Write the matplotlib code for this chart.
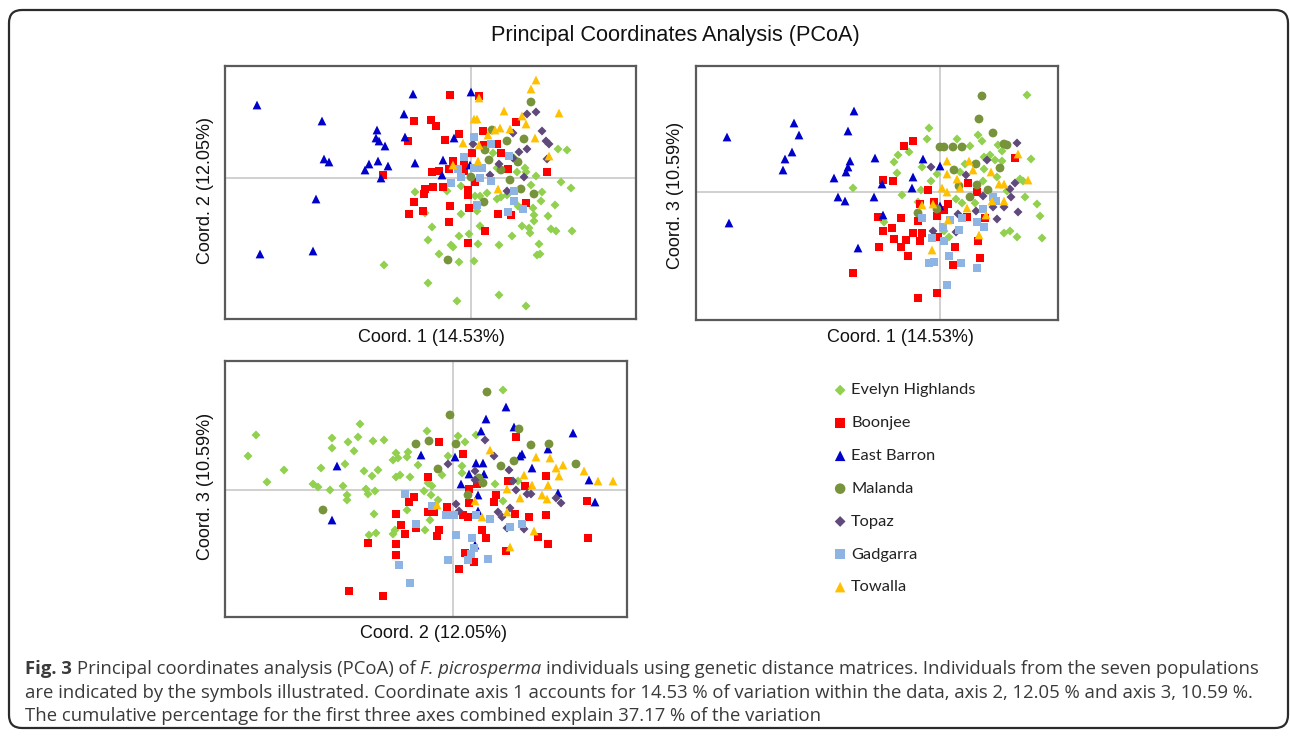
import numpy as np
import matplotlib.pyplot as plt
from matplotlib.patches import FancyBboxPatch

# PCoA scores (arbitrary units, origin at the crosshair)
populations = ['Evelyn Highlands', 'Boonjee', 'East Barron', 'Malanda',
               'Topaz', 'Gadgarra', 'Towalla']
colors = ['#92d050', '#ff0000', '#0000cc', '#77933c', '#604a7b', '#8db4e2', '#ffc000']
markers = ['D', 's', '^', 'o', 'D', 's', '^']
sizes = [21, 36, 40, 40, 21, 36, 40]

# coord 1 vs coord 2
c12_evelyn = [(-0.56,-0.14),(-0.46,-0.35),(-0.39,-0.49),(-0.43,-0.62),(-0.87,-0.87),(-0.43,-1.05),
              (-0.14,-1.23),(0.28,-1.17),(0.55,-1.28),(0.87,0.29),(0.96,0.28),(0.90,-0.04),(1.00,-0.10),
              (0.46,0.06),(0.55,0.06),(0.65,0.02),(0.60,-0.07),(0.71,-0.14),(0.70,-0.23),(0.84,-0.27),
              (0.62,-0.30),(0.77,-0.38),(0.63,-0.37),(0.63,-0.43),(0.51,-0.48),(0.58,-0.50),(0.59,-0.55),
              (0.80,-0.51),(0.85,-0.53),(1.01,-0.53),(0.68,-0.66),(0.66,-0.77),(0.69,-0.76),(0.41,-0.58),
              (0.28,-0.67),(0.07,-0.66),(0.03,-0.83),(-0.12,-0.84),(-0.32,-0.76),(-0.20,-0.67),(-0.18,-0.69),
              (-0.12,-0.58),(-0.02,-0.56),(0.09,-0.48),(-0.10,-0.36),(0.06,-0.33),(0.16,-0.15),(0.04,-0.18),
              (0.09,-0.18),(0.26,-0.21),(0.30,-0.19),(0.36,-0.17),(0.47,-0.28),(0.50,-0.30),(-0.10,-0.08),
              (-0.24,-0.13),(0.22,0.25),(0.43,0.20),(0.54,0.10),(0.26,0.10)]
c12_boonjee = [(-0.57,0.57),(-0.40,0.58),(-0.63,0.37),(-0.88,0.03),(-0.39,0.06),(-0.46,-0.11),(-0.38,-0.09),
               (-0.47,-0.16),(-0.57,-0.24),(-0.48,-0.33),(-0.62,-0.36),(-0.21,0.83),(0.08,0.82),(-0.35,0.52),
               (-0.26,0.38),(-0.12,0.44),(0.12,0.47),(0.45,0.56),(0.13,0.33),(0.26,0.34),(0.30,0.25),
               (0.01,0.25),(-0.18,0.17),(-0.22,0.09),(-0.32,0.07),(-0.07,0.13),(-0.07,0.07),(0.04,-0.04),
               (0.37,0.09),(0.76,0.06),(-0.28,-0.09),(-0.03,-0.12),(-0.03,-0.17),(-0.21,-0.28),(-0.02,-0.30),
               (0.27,-0.36),(0.40,-0.37),(0.55,-0.25),(-0.22,-0.44),(0.14,-0.53),(-0.03,-0.65)]
c12_eastbarron = [(-2.14,0.73),(-0.58,0.84),(-1.49,0.57),(-0.67,0.64),(-0.94,0.48),(-0.95,0.40),(-0.92,0.37),
                  (-0.86,0.32),(-0.66,0.41),(-1.47,0.19),(-1.42,0.16),(-1.02,0.14),(-0.93,0.17),(-1.06,0.08),
                  (-0.83,0.12),(-0.56,0.15),(-0.90,0.00),(-1.55,-0.21),(-2.11,-0.76),(-1.58,-0.73),(0.00,0.86),
                  (-0.17,0.40),(-0.28,0.18),(-0.29,0.03),(-0.01,0.13)]
c12_malanda = [(0.60,0.76),(0.21,0.48),(0.36,0.37),(0.53,0.39),(0.14,0.28),(0.18,0.18),(0.47,0.16),
               (0.30,0.08),(0.00,0.01),(0.39,-0.02),(0.50,-0.11),(0.63,-0.16),(0.13,-0.24),(-0.23,-0.82)]
c12_topaz = [(0.65,0.66),(0.56,0.64),(0.71,0.47),(0.42,0.45),(0.75,0.37),(0.78,0.34),(0.56,0.29),(0.48,0.26),
             (0.42,0.20),(0.76,0.19),(0.02,0.34),(0.19,0.03),(0.53,0.01),(0.36,-0.13),(0.28,0.14)]
c12_gadgarra = [(0.03,0.41),(0.20,0.34),(-0.07,0.21),(-0.13,0.09),(0.03,0.10),(0.11,0.10),(0.38,0.22),
                (-0.10,0.01),(0.09,0.00),(0.20,-0.03),(-0.20,-0.05),(0.43,-0.13),(0.43,-0.23),(0.52,-0.31),
                (0.37,-0.34),(0.06,-0.27)]
c12_towalla = [(0.65,0.98),(0.60,0.89),(0.08,0.80),(0.33,0.67),(0.88,0.65),(0.51,0.62),(0.55,0.54),(0.03,0.59),
               (0.06,0.59),(0.24,0.48),(0.29,0.50),(0.39,0.49),(0.17,0.43),(0.64,0.40),(-0.08,0.35),(0.08,0.33),
               (0.07,0.17),(-0.18,0.13),(0.78,0.22),(0.27,-0.11)]

# coord 1 vs coord 3
c13_evelyn = [(-0.87,0.04),(-0.56,-0.30),(0.87,0.97),(-0.11,0.64),(-0.13,0.53),(0.17,0.53),(0.38,0.57),
              (0.42,0.51),(0.30,0.46),(-0.31,0.40),(-0.42,0.37),(-0.46,0.30),(-0.18,0.25),(-0.43,0.19),
              (-0.09,0.11),(-0.03,0.18),(0.58,0.47),(0.62,0.41),(0.44,0.35),(0.50,0.37),(0.55,0.32),(0.62,0.31),
              (0.91,0.33),(0.44,0.23),(0.25,0.28),(0.20,0.20),(0.43,0.11),(0.57,0.15),(0.80,0.13),(0.83,0.11),
              (0.67,0.01),(0.85,-0.05),(-0.19,0.02),(-0.38,-0.03),(0.16,-0.07),(0.22,-0.11),(0.35,-0.11),
              (0.97,-0.12),(1.00,-0.24),(1.02,-0.46),(0.77,-0.45),(0.70,-0.39),(0.64,-0.41),(0.04,-0.39),
              (0.09,-0.45),(-0.22,-0.10)]
c13_boonjee = [(-0.57,0.12),(-0.62,-0.25),(-0.57,-0.39),(-0.61,-0.55),(-0.87,-0.81),(-0.36,0.46),(-0.27,0.51),
               (-0.47,0.11),(-0.12,0.02),(-0.20,-0.12),(-0.06,-0.10),(0.08,-0.12),(0.04,-0.18),(0.28,0.09),
               (0.37,0.00),(0.27,-0.25),(-0.03,-0.24),(-0.39,-0.26),(-0.48,-0.36),(-0.22,-0.29),(-0.27,-0.41),
               (-0.18,-0.41),(-0.46,-0.47),(-0.34,-0.48),(-0.20,-0.49),(-0.02,-0.45),(-0.39,-0.55),(-0.32,-0.64),
               (0.15,-0.55),(0.13,-0.73),(0.38,-0.49),(0.40,-0.66),(0.45,-0.26),(0.75,0.34),(-0.22,-1.06),
               (-0.03,-1.01)]
c13_eastbarron = [(-2.13,0.55),(-1.46,0.69),(-1.41,0.57),(-1.48,0.40),(-1.55,0.33),(-1.57,0.22),(-0.86,0.81),
                  (-0.92,0.61),(-0.90,0.31),(-0.92,0.25),(-0.94,0.20),(-1.06,0.14),(-0.65,0.34),(-0.58,0.08),
                  (-1.02,-0.05),(-0.95,-0.09),(-0.66,-0.05),(-0.57,-0.23),(-2.11,-0.31),(-0.82,-0.56),
                  (-0.17,0.33),(0.00,0.26),(-0.27,0.15),(-0.28,0.04),(0.00,-0.14)]
c13_malanda = [(0.42,0.96),(0.39,0.73),(0.53,0.59),(0.00,0.45),(0.04,0.45),(0.13,0.45),(0.22,0.45),(0.64,0.48),
               (0.67,0.47),(0.36,0.28),(0.14,0.22),(0.60,0.24),(0.37,0.07),(0.19,0.06),(0.48,0.02),(0.30,-0.05),
               (-0.03,-0.17),(-0.22,-0.21)]
c13_topaz = [(0.77,0.49),(0.47,0.32),(-0.09,0.25),(0.26,0.17),(0.75,0.09),(0.70,0.03),(0.71,-0.05),(0.43,-0.04),
             (0.36,-0.19),(0.53,-0.15),(0.64,-0.15),(0.78,-0.20),(0.57,-0.27),(0.18,-0.22),(0.16,-0.40),
             (-0.07,-0.39)]
c13_gadgarra = [(-0.18,-0.26),(0.03,-0.35),(0.19,-0.38),(0.10,-0.28),(-0.08,-0.46),(0.04,-0.49),(-0.11,-0.71),
                (-0.06,-0.70),(0.09,-0.64),(0.21,-0.71),(0.37,-0.76),(0.07,-0.93),(0.37,-0.30),(0.44,-0.35),
                (0.43,-0.17),(0.22,-0.26),(0.53,-0.05),(0.56,-0.09)]
c13_towalla = [(0.07,0.31),(0.29,0.31),(0.33,0.22),(0.07,0.18),(0.17,0.13),(0.51,0.20),(0.59,0.08),(0.64,0.08),
               (0.78,0.38),(0.88,0.12),(0.02,0.04),(0.07,0.00),(-0.18,-0.13),(-0.07,-0.12),(0.20,0.04),
               (0.27,-0.16),(0.64,-0.09),(0.52,-0.09),(0.46,-0.23),(0.08,-0.28),(0.39,-0.43),(-0.08,-0.58)]

# coord 2 vs coord 3
c23_evelyn = [(-1.97,0.55),(-2.05,0.34),(-1.69,0.20),(-1.86,0.08),(-0.93,0.66),(-1.21,0.52),(-1.21,0.42),
              (-1.05,0.48),(-0.95,0.53),(-0.80,0.49),(-0.69,0.50),(-0.99,0.39),(-1.32,0.22),(-1.08,0.26),
              (-1.40,0.06),(-1.35,0.03),(-1.23,0.00),(-1.10,0.04),(-1.06,-0.05),(-1.06,-0.10),(-0.89,0.19),
              (-0.81,0.14),(-0.75,0.20),(-0.87,0.01),(-0.85,-0.04),(-0.78,-0.01),(-0.57,0.37),(-0.55,0.32),
              (-0.60,0.30),(-0.45,0.38),(-0.46,0.33),(-0.53,0.15),(-0.57,0.13),(-0.43,0.13),(-0.35,0.25),
              (-0.26,0.59),(-0.79,-0.24),(-0.84,-0.45),(-0.77,-0.43),(-0.60,-0.44),(-0.58,-0.40),(-0.46,-0.20),
              (-0.28,-0.40),(-0.29,-0.01),(-0.22,-0.05),(0.50,1.00),(0.05,0.54),(0.12,0.48),(0.23,0.55),
              (-0.05,0.34),(0.09,0.24),(0.09,0.17),(-0.11,0.15),(-0.25,0.07),(-0.21,0.04),(0.42,0.06),
              (-0.15,-0.10),(0.50,-0.11),(-0.23,-0.30),(0.65,0.09)]
c23_boonjee = [(-0.25,0.13),(-0.39,-0.07),(-0.44,-0.12),(-0.25,-0.22),(-0.57,-0.24),(-0.52,-0.35),(-0.48,-0.44),
               (-0.37,-0.38),(-0.85,-0.53),(-0.57,-0.54),(-0.57,-0.65),(-1.04,-1.01),(-0.70,-1.06),(-0.14,0.48),
               (0.10,0.36),(0.63,0.53),(0.24,0.06),(0.55,0.09),(0.72,0.04),(0.93,0.14),(0.16,0.01),(0.43,-0.05),
               (0.41,-0.12),(0.16,-0.13),(-0.06,-0.17),(-0.19,-0.22),(0.10,-0.25),(0.15,-0.27),(0.62,-0.24),
               (0.76,-0.27),(0.93,-0.25),(1.34,-0.11),(-0.14,-0.40),(-0.16,-0.46),(0.29,-0.40),(0.33,-0.48),
               (0.85,-0.47),(0.95,-0.54),(1.35,-0.48),(0.53,-0.61),(0.12,-0.63),(0.21,-0.72),(0.06,-0.79)]
c23_eastbarron = [(-1.16,0.24),(-0.32,0.35),(-1.21,-0.30),(0.53,0.83),(0.33,0.71),(0.28,0.59),(0.61,0.63),
                  (1.20,0.57),(0.95,0.41),(0.69,0.36),(0.67,0.34),(0.02,0.33),(0.23,0.27),(0.30,0.27),
                  (0.16,0.16),(0.31,0.16),(0.79,0.22),(0.08,0.06),(0.25,-0.05),(0.25,-0.21),(0.22,-0.55),
                  (1.36,0.10),(1.05,-0.03),(1.42,-0.12)]
c23_malanda = [(-0.37,0.46),(-0.24,0.49),(-1.30,-0.20),(0.34,0.98),(-0.03,0.75),(0.66,0.61),(0.03,0.46),
               (0.78,0.45),(0.96,0.46),(0.61,0.29),(0.48,0.24),(-0.15,0.21),(1.23,0.26),(0.26,0.12),(0.30,0.07),
               (0.15,-0.05)]
c23_topaz = [(0.32,0.50),(0.41,0.34),(-0.05,0.26),(0.22,0.19),(0.56,0.20),(0.22,0.10),(0.60,0.09),(0.63,0.00),
             (0.74,-0.04),(0.78,-0.04),(1.03,-0.08),(1.08,-0.13),(0.03,-0.14),(0.06,-0.21),(0.45,-0.22),
             (0.49,-0.27),(0.57,-0.18),(0.54,-0.38),(0.71,-0.39)]
c23_gadgarra = [(-0.48,-0.04),(-0.37,-0.34),(-0.54,-0.75),(-0.43,-0.93),(-0.21,-0.16),(-0.07,-0.25),(0.01,-0.25),
                (0.23,-0.25),(0.37,-0.29),(0.57,-0.37),(0.69,-0.34),(0.03,-0.45),(0.19,-0.48),(0.21,-0.58),
                (0.18,-0.64),(0.15,-0.70),(0.35,-0.69),(-0.05,-0.70)]
c23_towalla = [(0.37,0.40),(0.83,0.33),(0.97,0.32),(1.03,0.22),(1.10,0.25),(1.06,0.14),(1.31,0.19),(1.45,0.09),
               (1.60,0.09),(0.71,0.15),(0.79,0.05),(0.95,0.05),(0.54,0.01),(0.89,-0.05),(0.94,-0.09),
               (0.67,-0.08),(0.22,-0.11),(-0.16,-0.15),(0.29,-0.27),(0.54,-0.22),(0.81,-0.41),(0.57,-0.57)]

W, H = 1290, 740
fig = plt.figure(figsize=(W / 100, H / 100), dpi=100)
fig.patch.set_facecolor('white')

def fx(px):
    return px / W

def fy(py):
    return 1 - py / H

# background layer in pixel coordinates: rounded frame + caption
bg = fig.add_axes([0, 0, 1, 1], zorder=-1)
bg.set_xlim(0, W)
bg.set_ylim(H, 0)
bg.axis('off')
bg.add_patch(FancyBboxPatch((9, 10), 1279, 718, boxstyle='round,pad=0,rounding_size=13',
                            fc='white', ec='#2b2b2b', lw=1.6))

fig.text(fx(675), fy(35), 'Principal Coordinates Analysis (PCoA)', ha='center', va='center',
         family='Liberation Sans', fontsize=15.7, color='#111111')

panels = [
    ([225, 66, 636, 319], [c12_evelyn, c12_boonjee, c12_eastbarron, c12_malanda, c12_topaz, c12_gadgarra, c12_towalla],
     (-2.46, 1.65), (-1.41, 1.12), 'Coord. 1 (14.53%)', (431, 337), 'Coord. 2 (12.05%)', (205, 191)),
    ([696, 66, 1058, 320], [c13_evelyn, c13_boonjee, c13_eastbarron, c13_malanda, c13_topaz, c13_gadgarra, c13_towalla],
     (-2.44, 1.18), (-1.28, 1.26), 'Coord. 1 (14.53%)', (900, 337), 'Coord. 3 (10.59%)', (676, 195)),
    ([225, 361, 627, 617], [c23_evelyn, c23_boonjee, c23_eastbarron, c23_malanda, c23_topaz, c23_gadgarra, c23_towalla],
     (-2.28, 1.74), (-1.27, 1.29), 'Coord. 2 (12.05%)', (434, 633), 'Coord. 3 (10.59%)', (205, 486)),
]

handles = []
for k, (box, groups, xl, yl, xlab, xpos, ylab, ypos) in enumerate(panels):
    l, t, r, b = box
    ax = fig.add_axes([fx(l), fy(b), (r - l) / W, (b - t) / H])
    ax.axhline(0, color='#c8c8c8', lw=1.2, zorder=0)
    ax.axvline(0, color='#c8c8c8', lw=1.2, zorder=0)
    for i, pts in enumerate(groups):
        xy = np.array(pts)
        sc = ax.scatter(xy[:, 0], xy[:, 1], s=sizes[i], marker=markers[i], c=colors[i],
                        edgecolors='none', label=populations[i], zorder=2 + i)
        if k == 0:
            handles.append(sc)
    ax.set_xlim(*xl)
    ax.set_ylim(*yl)
    ax.set_xticks([])
    ax.set_yticks([])
    for sp in ax.spines.values():
        sp.set_color('#5a5a5a')
        sp.set_linewidth(1.6)
    fig.text(fx(xpos[0]), fy(xpos[1]), xlab, ha='center', va='center',
             family='Liberation Sans', fontsize=13, color='#111111')
    fig.text(fx(ypos[0]), fy(ypos[1]), ylab, ha='center', va='center', rotation=90,
             family='Liberation Sans', fontsize=13, color='#111111')

fig.legend(handles, populations, loc='upper left', bbox_to_anchor=(fx(834), fy(383)),
           frameon=False, borderpad=0, borderaxespad=0, handlelength=0.75, handletextpad=0.3,
           labelspacing=1.12, markerscale=1.2, prop={'family': 'Lato', 'size': 11.8},
           labelcolor='#222222')

# caption with mixed bold / italic runs
cap_font = dict(family='Open Sans', fontsize=13.3, color='#3a3a3a')
caption = [
    [('Fig. 3', 'bold', 'normal'), ('Principal coordinates analysis (PCoA) of', 'normal', 'normal'),
     ('F. picrosperma', 'normal', 'italic'),
     ('individuals using genetic distance matrices. Individuals from the seven populations', 'normal', 'normal')],
    [('are indicated by the symbols illustrated. Coordinate axis 1 accounts for 14.53 % of variation '
      'within the data, axis 2, 12.05 % and axis 3, 10.59 %.', 'normal', 'normal')],
    [('The cumulative percentage for the first three axes combined explain 37.17 % of the variation',
      'normal', 'normal')],
]
renderer = fig.canvas.get_renderer()
probe = bg.text(0, 0, 'a a', **cap_font)
w_sp = probe.get_window_extent(renderer).width
probe.set_text('aa')
w_sp -= probe.get_window_extent(renderer).width
probe.remove()
for row, y in zip(caption, [669, 693, 716]):
    x = 25
    for text, weight, style in row:
        t = bg.text(x, y, text, ha='left', va='center', fontweight=weight, fontstyle=style, **cap_font)
        x = t.get_window_extent(renderer).x1 + w_sp

fig.savefig('out.png', dpi=100)
